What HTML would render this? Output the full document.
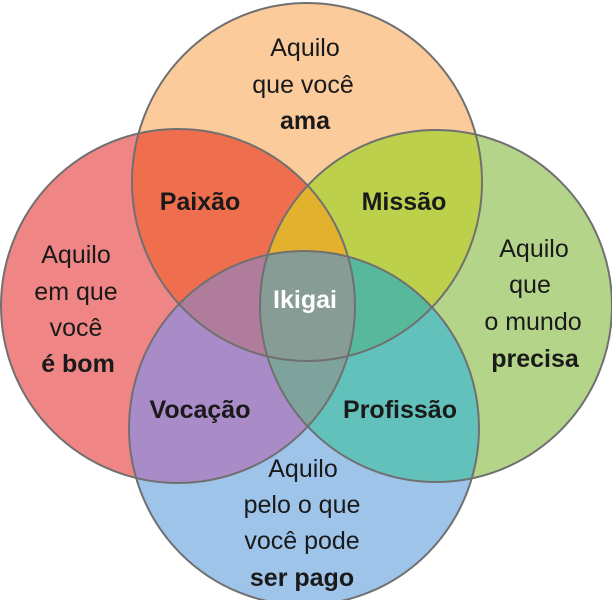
<!DOCTYPE html>
<html><head><meta charset="utf-8"><style>
html,body{margin:0;padding:0;background:#fff;width:612px;height:600px;overflow:hidden}
svg text{font-family:"Liberation Sans",sans-serif;font-size:25px;fill:#1a1a1a;text-anchor:middle}
.b{font-weight:bold;font-size:25px}
</style></head><body>
<svg width="612" height="600" viewBox="0 0 612 600" xmlns="http://www.w3.org/2000/svg">
<defs>
<clipPath id="T"><ellipse cx="307" cy="182" rx="175" ry="179"/></clipPath>
<clipPath id="L"><circle cx="178" cy="306" r="177"/></clipPath>
<clipPath id="R"><circle cx="436" cy="306" r="176"/></clipPath>
<clipPath id="B"><ellipse cx="304" cy="428" rx="175" ry="177"/></clipPath>
</defs>
<ellipse cx="307" cy="182" rx="175" ry="179" fill="#fbcb9c"/>
<circle cx="178" cy="306" r="177" fill="#f08585"/>
<circle cx="436" cy="306" r="176" fill="#b4d48a"/>
<ellipse cx="304" cy="428" rx="175" ry="177" fill="#9ec4ea"/>
<g clip-path="url(#T)"><rect width="612" height="600" fill="#ef6e4e" clip-path="url(#L)"/></g>
<g clip-path="url(#T)"><rect width="612" height="600" fill="#bdd04c" clip-path="url(#R)"/></g>
<g clip-path="url(#B)"><rect width="612" height="600" fill="#a98bc8" clip-path="url(#L)"/></g>
<g clip-path="url(#B)"><rect width="612" height="600" fill="#62c1ba" clip-path="url(#R)"/></g>
<g clip-path="url(#T)"><g clip-path="url(#L)"><rect width="612" height="600" fill="#e2b12e" clip-path="url(#R)"/></g></g>
<g clip-path="url(#T)"><g clip-path="url(#L)"><rect width="612" height="600" fill="#b07c9c" clip-path="url(#B)"/></g></g>
<g clip-path="url(#T)"><g clip-path="url(#R)"><rect width="612" height="600" fill="#58b89c" clip-path="url(#B)"/></g></g>
<g clip-path="url(#B)"><g clip-path="url(#L)"><rect width="612" height="600" fill="#7ea39c" clip-path="url(#R)"/></g></g>
<g clip-path="url(#T)"><g clip-path="url(#L)"><g clip-path="url(#R)"><rect width="612" height="600" fill="#869c94" clip-path="url(#B)"/></g></g></g>
<g fill="none" stroke="#707070" stroke-width="2">
<ellipse cx="307" cy="182" rx="175" ry="179"/><circle cx="178" cy="306" r="177"/>
<circle cx="436" cy="306" r="176"/><ellipse cx="304" cy="428" rx="175" ry="177"/>
</g>
<text x="305" y="56">Aquilo</text><text x="303" y="93">que você</text><text class="b" x="305" y="129">ama</text>
<text x="76" y="263">Aquilo</text><text x="76" y="300">em que</text><text x="76" y="336">você</text><text class="b" x="78" y="372">é bom</text>
<text x="534" y="257">Aquilo</text><text x="530" y="293">que</text><text x="533" y="330">o mundo</text><text class="b" x="535" y="367">precisa</text>
<text x="303" y="477">Aquilo</text><text x="302" y="513">pelo o que</text><text x="302" y="549">você pode</text><text class="b" x="302" y="586">ser pago</text>
<text class="b" x="200" y="210">Paixão</text>
<text class="b" x="404" y="210">Missão</text>
<text class="b" x="305" y="308" style="fill:#fff">Ikigai</text>
<text class="b" x="200" y="418">Vocação</text>
<text class="b" x="400" y="418">Profissão</text>
</svg>
</body></html>
